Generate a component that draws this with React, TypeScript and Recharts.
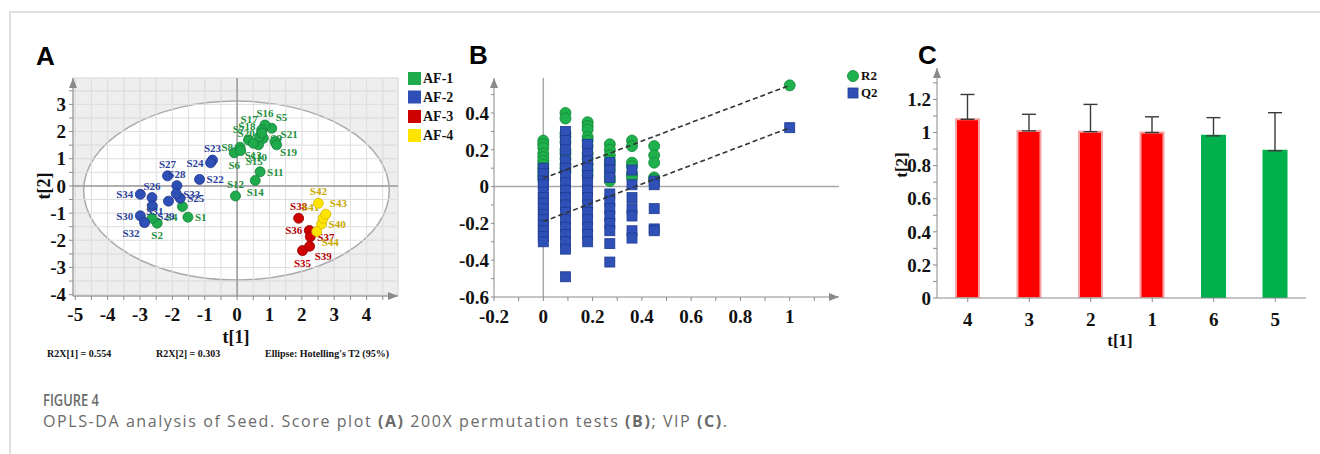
import React from 'react';
import {
  ScatterChart, Scatter, BarChart, Bar, Cell, ErrorBar, XAxis, YAxis,
  CartesianGrid, ReferenceArea, ReferenceLine,
} from 'recharts';

const SERIF = "'Liberation Serif', 'Times New Roman', serif";
const SANS = "'Liberation Sans', Arial, sans-serif";

// ---------- A: OPLS-DA score plot ----------
const af1Names = ['S1', 'S2', 'S3', 'S4', 'S5', 'S6', 'S7', 'S8', 'S9', 'S10', 'S11', 'S12', 'S13', 'S14', 'S15', 'S16', 'S17', 'S18', 'S19', 'S20', 'S21'];
const af1T1 = [-1.52, -2.47, -2.63, -1.69, 1.07, -0.09, 0.35, 0.09, 0.81, 0.66, 0.71, -0.05, 0.5, 0.56, 0.11, 0.86, 0.76, 0.69, 1.17, 0.76, 1.22];
const af1T2 = [-1.15, -1.37, -1.19, -0.76, 2.12, 1.22, 1.69, 1.42, 1.75, 1.51, 0.52, -0.37, 1.57, 0.2, 1.3, 2.24, 2.06, 1.81, 1.63, 1.95, 1.51];

const af2Names = ['S22', 'S23', 'S24', 'S25', 'S26', 'S27', 'S28', 'S29', 'S30', 'S31', 'S32', 'S33', 'S34'];
const af2T1 = [-1.16, -0.76, -0.82, -1.76, -2.63, -2.15, -1.86, -2.62, -2.99, -2.12, -2.86, -1.88, -2.99];
const af2T2 = [0.24, 0.95, 0.85, -0.45, -0.43, 0.37, 0.01, -0.74, -1.1, -0.56, -1.35, -0.29, -0.31];

const af3Names = ['S35', 'S36', 'S37', 'S38', 'S39'];
const af3T1 = [2.02, 2.23, 2.26, 1.9, 2.24];
const af3T2 = [-2.38, -1.64, -1.87, -1.19, -2.22];

const af4Names = ['S40', 'S41', 'S42', 'S43', 'S44'];
const af4T1 = [2.61, 2.66, 2.51, 2.74, 2.46];
const af4T2 = [-1.4, -1.19, -0.64, -1.04, -1.68];

// Hotelling's T2 ellipse extent (t[1], t[2])
const ellipseT1 = [-4.74, 4.7];
const ellipseT2 = [-3.46, 3.12];

const aTicksX = [-5, -4.5, -4, -3.5, -3, -2.5, -2, -1.5, -1, -0.5, 0, 0.5, 1, 1.5, 2, 2.5, 3, 3.5, 4, 4.5];
const aTicksY = [-4, -3.5, -3, -2.5, -2, -1.5, -1, -0.5, 0, 0.5, 1, 1.5, 2, 2.5, 3, 3.5];

const labelSide: Record<string, string> = {
  S1: 'r', S2: 'b', S3: 't', S4: 'bl', S5: 'tr', S6: 'b', S7: 'tl', S8: 'l', S9: 'r', S10: 'b',
  S11: 'r', S12: 't', S13: 'b', S14: 'b', S15: 'br', S16: 't', S17: 'tl', S18: 'tl', S19: 'br', S20: 'l', S21: 'tr',
  S22: 'r', S23: 't', S24: 'l', S25: 'r', S26: 't', S27: 't', S28: 't', S29: 'br', S30: 'l', S31: 'bl',
  S32: 'bl', S33: 'r', S34: 'l',
  S35: 'b', S36: 'l', S37: 'r', S38: 't', S39: 'br',
  S40: 'r', S41: 'tl', S42: 't', S43: 'tr', S44: 'br',
};

const OFFSETS: Record<string, [number, number, 'start' | 'end' | 'middle']> = {
  r: [7, 4, 'start'], l: [-7, 4, 'end'], t: [0, -8, 'middle'], b: [0, 16, 'middle'],
  tr: [4, -7, 'start'], tl: [-4, -7, 'end'], br: [5, 14, 'start'], bl: [-5, 14, 'end'],
};

const toPoints = (names: string[], t1: number[], t2: number[]) =>
  names.map((name, i) => ({ name, x: t1[i], y: t2[i] }));

const scoreGroups = [
  { key: 'AF-1', data: toPoints(af1Names, af1T1, af1T2), fill: '#1faa4b', stroke: '#138038', text: '#1f8f3e' },
  { key: 'AF-2', data: toPoints(af2Names, af2T1, af2T2), fill: '#2e4fb6', stroke: '#1d3588', text: '#2c3f9c' },
  { key: 'AF-3', data: toPoints(af3Names, af3T1, af3T2), fill: '#cf0000', stroke: '#900000', text: '#b50000' },
  { key: 'AF-4', data: toPoints(af4Names, af4T1, af4T2), fill: '#ffe400', stroke: '#d2b400', text: '#c9a900' },
];

// ---------- B: 200X permutation test ----------
const permX = [0, 0.09, 0.18, 0.27, 0.36, 0.45];
const r2Perm = [
  [0.25, 0.23, 0.21, 0.18, 0.16, 0.14, 0.12, 0.1, 0.08, 0.06, 0.04],
  [0.4, 0.37, 0.29, 0.27, 0.24, 0.2, 0.18, 0.15, 0.12, 0.1, 0.08],
  [0.35, 0.33, 0.31, 0.27, 0.25, 0.22, 0.18, 0.15, 0.12, 0.09, 0.06],
  [0.23, 0.2, 0.17, 0.14, 0.12, 0.09, 0.05, 0.03],
  [0.25, 0.22, 0.13, 0.11, 0.07, 0.05],
  [0.22, 0.17, 0.13, 0.05, 0.04],
];
const q2Perm = [
  [0.1, 0.07, 0.03, 0.01, -0.03, -0.06, -0.09, -0.12, -0.15, -0.18, -0.21, -0.24, -0.27, -0.3],
  [0.3, 0.25, 0.2, 0.14, 0.1, 0.06, 0.02, -0.02, -0.06, -0.1, -0.14, -0.18, -0.22, -0.26, -0.3, -0.34, -0.49],
  [0.23, 0.18, 0.14, 0.1, 0.06, 0.02, -0.02, -0.06, -0.1, -0.14, -0.18, -0.22, -0.26, -0.3],
  [0.13, 0.09, 0.05, -0.04, -0.08, -0.12, -0.16, -0.2, -0.24, -0.31, -0.41],
  [0.09, 0.01, -0.06, -0.12, -0.16, -0.24, -0.28],
  [0.03, 0.01, -0.12, -0.23, -0.24],
];
const r2Model = 0.55;
const q2Model = 0.32;
const r2Intercept = 0.045;
const q2Intercept = -0.19;

const bTicksX = [-0.2, -0.1, 0, 0.1, 0.2, 0.3, 0.4, 0.5, 0.6, 0.7, 0.8, 0.9, 1, 1.1];
const bTicksY = [-0.6, -0.5, -0.4, -0.3, -0.2, -0.1, 0, 0.1, 0.2, 0.3, 0.4, 0.5];

const r2Points = [
  ...permX.flatMap((x, i) => r2Perm[i].map((y) => ({ x, y }))),
  { x: 1, y: r2Model },
];
const q2Points = [
  ...permX.flatMap((x, i) => q2Perm[i].map((y) => ({ x, y }))),
  { x: 1, y: q2Model },
];

// ---------- C: VIP ----------
const vipCats = ['4', '3', '2', '1', '6', '5'];
const vipValues = [1.08, 1.01, 1.005, 1.0, 0.98, 0.89];
const vipErr = [0.15, 0.1, 0.165, 0.095, 0.11, 0.23];
const vipColors = ['#ff0000', '#ff0000', '#ff0000', '#ff0000', '#00b04c', '#00b04c'];
const vipTicksY = [0, 0.1, 0.2, 0.3, 0.4, 0.5, 0.6, 0.7, 0.8, 0.9, 1, 1.1, 1.2, 1.3];

const vipData = vipCats.map((cat, i) => ({ cat, vip: vipValues[i], err: [0, vipErr[i]] }));

// ---------- shared styles ----------
const tickStyle = { fill: '#111', fontFamily: SERIF, fontWeight: 700, fontSize: 19 };
const axisGray = '#8a8a8a';
const intOnly = (v: number) => (Number.isInteger(v) ? String(v) : '');
const evenTenths = (v: number) => (Math.round(v * 10) % 2 === 0 ? String(Math.round(v * 10) / 10) : '');

function ArrowDefs({ id }: { id: string }) {
  return (
    <defs>
      <marker id={id} viewBox="0 0 10 8" refX={10} refY={4} markerWidth={10} markerHeight={8}
        markerUnits="userSpaceOnUse" orient="auto-start-reverse">
        <path d="M0,0 L10,4 L0,8 z" fill={axisGray} />
      </marker>
    </defs>
  );
}

function scoreDot(fill: string, stroke: string, textColor: string) {
  return (p: any) => {
    const { cx, cy, payload } = p;
    const o = OFFSETS[labelSide[payload.name] || 'r'];
    return (
      <g>
        <circle cx={cx} cy={cy} r={5} fill={fill} stroke={stroke} strokeWidth={0.8} />
        <text x={cx + o[0]} y={cy + o[1]} textAnchor={o[2]} fill={textColor}
          fontFamily={SERIF} fontWeight={700} fontSize={11}>{payload.name}</text>
      </g>
    );
  };
}

function ScorePlot() {
  return (
    <ScatterChart width={420} height={340} margin={{ top: 78, right: 22, bottom: 14, left: 33 }}>
      <ArrowDefs id="arrA" />
      <CartesianGrid fill="#eeeeee" stroke="#e2e2e2" zIndex={-100} />
      <ReferenceArea x1={ellipseT1[0]} x2={ellipseT1[1]} y1={ellipseT2[0]} y2={ellipseT2[1]} zIndex={-90}
        shape={(p: any) => (
          <ellipse cx={p.x + p.width / 2} cy={p.y + p.height / 2} rx={p.width / 2} ry={p.height / 2}
            fill="#ffffff" stroke="#a9a9a9" strokeWidth={1.5} />
        )} />
      <CartesianGrid fill="none" stroke="#dedede" zIndex={-80} />
      <ReferenceLine x={0} stroke="#9a9a9a" strokeWidth={1.5} zIndex={-70} />
      <ReferenceLine y={0} stroke="#9a9a9a" strokeWidth={1.5} zIndex={-70} />
      <XAxis type="number" dataKey="x" domain={[-5.07, 4.97]} allowDataOverflow ticks={aTicksX} interval={0}
        tickFormatter={intOnly} height={30} tickSize={4} tickMargin={8} tick={tickStyle}
        stroke={axisGray} axisLine={{ stroke: axisGray, markerEnd: 'url(#arrA)' }} />
      <YAxis type="number" dataKey="y" domain={[-4.05, 3.97]} allowDataOverflow ticks={aTicksY} interval={0}
        tickFormatter={intOnly} width={40} tickSize={4} tickMargin={3} tick={tickStyle}
        stroke={axisGray} axisLine={{ stroke: axisGray, markerStart: 'url(#arrA)' }} />
      {scoreGroups.map((g) => (
        <Scatter key={g.key} name={g.key} data={g.data} isAnimationActive={false}
          shape={scoreDot(g.fill, g.stroke, g.text)} />
      ))}
    </ScatterChart>
  );
}

function PermutationPlot() {
  return (
    <ScatterChart width={420} height={340} margin={{ top: 78, right: 21, bottom: 13, left: 4 }}>
      <ArrowDefs id="arrB" />
      <ReferenceLine x={0} stroke="#a8a8a8" strokeWidth={1.5} />
      <ReferenceLine y={0} stroke="#a8a8a8" strokeWidth={1.5} />
      <XAxis type="number" dataKey="x" domain={[-0.2, 1.2]} allowDataOverflow ticks={bTicksX} interval={0}
        tickFormatter={evenTenths} height={30} tickSize={4} tickMargin={9} tick={tickStyle}
        stroke={axisGray} axisLine={{ stroke: axisGray, markerEnd: 'url(#arrB)' }} />
      <YAxis type="number" dataKey="y" domain={[-0.6, 0.59]} allowDataOverflow ticks={bTicksY} interval={0}
        tickFormatter={evenTenths} width={50} tickSize={3} tickMargin={2} tick={tickStyle}
        stroke={axisGray} axisLine={{ stroke: axisGray, markerStart: 'url(#arrB)' }} />
      <Scatter name="R2" data={r2Points} isAnimationActive={false}
        shape={(p: any) => <circle cx={p.cx} cy={p.cy} r={5.5} fill="#1fb14b" stroke="#12873a" strokeWidth={0.8} />} />
      <Scatter name="Q2" data={q2Points} isAnimationActive={false}
        shape={(p: any) => <rect x={p.cx - 5} y={p.cy - 5} width={10} height={10} fill="#2f50b6" stroke="#1e3a8f" strokeWidth={0.8} />} />
      <ReferenceLine segment={[{ x: 0, y: r2Intercept }, { x: 1, y: r2Model }]} stroke="#333" strokeWidth={1.6}
        strokeDasharray="5 3" zIndex={700} />
      <ReferenceLine segment={[{ x: 0, y: q2Intercept }, { x: 1, y: q2Model }]} stroke="#333" strokeWidth={1.6}
        strokeDasharray="5 3" zIndex={700} />
    </ScatterChart>
  );
}

function VipPlot() {
  return (
    <BarChart width={440} height={340} data={vipData} margin={{ top: 68, right: 14, bottom: 12, left: 7 }}>
      <ArrowDefs id="arrC" />
      <XAxis dataKey="cat" height={30} tickSize={4} tickMargin={11} tick={tickStyle}
        stroke={axisGray} axisLine={{ stroke: axisGray }} />
      <YAxis type="number" domain={[0, 1.39]} allowDataOverflow ticks={vipTicksY} interval={0}
        tickFormatter={evenTenths} width={50} tickSize={4} tickMargin={2} tick={tickStyle}
        stroke={axisGray} axisLine={{ stroke: axisGray, markerStart: 'url(#arrC)' }} />
      <Bar dataKey="vip" barSize={23} isAnimationActive={false}>
        {vipData.map((d, i) => (
          <Cell key={d.cat} fill={vipColors[i]}
            stroke={vipColors[i] === '#ff0000' ? '#f7a3a3' : vipColors[i]} strokeWidth={2} />
        ))}
        <ErrorBar dataKey="err" direction="y" width={7} stroke="#3a3a3a" strokeWidth={1.4} />
      </Bar>
    </BarChart>
  );
}

const legendRows = [72, 90.5, 110, 129];

export default function App() {
  return (
    <div style={{ position: 'absolute', left: 0, top: 0, width: 1320, height: 454, background: '#fff', overflow: 'hidden' }}>
      <div style={{ position: 'absolute', left: 10, top: 11, width: 1310, height: 2, background: '#dedede' }} />
      <div style={{ position: 'absolute', left: 9, top: 11, width: 2, height: 443, background: '#dedede' }} />

      <div style={{ position: 'absolute', left: 0, top: 0 }}><ScorePlot /></div>
      <div style={{ position: 'absolute', left: 440, top: 0 }}><PermutationPlot /></div>
      <div style={{ position: 'absolute', left: 880, top: 0 }}><VipPlot /></div>

      <svg width={1320} height={454} style={{ position: 'absolute', left: 0, top: 0, pointerEvents: 'none' }}>
        <g fontFamily={SANS} fontWeight={700} fontSize={26} fill="#000">
          <text x={36} y={65}>A</text>
          <text x={469} y={64}>B</text>
          <text x={918} y={64}>C</text>
        </g>

        {scoreGroups.map((g, i) => (
          <g key={g.key}>
            <rect x={408} y={legendRows[i]} width={13} height={13} fill={g.fill} />
            <text x={423} y={legendRows[i] + 11} fontFamily={SERIF} fontWeight={700} fontSize={14} fill="#111">{g.key}</text>
          </g>
        ))}

        <g fontFamily={SERIF} fontWeight={700} fill="#111">
          <text x={236} y={343} fontSize={18} textAnchor="middle">t[1]</text>
          <text transform="translate(50,186) rotate(-90)" fontSize={18} textAnchor="middle">t[2]</text>
          <text x={47} y={357} fontSize={10}>R2X[1] = 0.554</text>
          <text x={156} y={357} fontSize={10}>R2X[2] = 0.303</text>
          <text x={265} y={357} fontSize={10}>Ellipse: Hotelling's T2 (95%)</text>
          <text x={1120} y={346} fontSize={17} textAnchor="middle">t[1]</text>
          <text transform="translate(907,165) rotate(-90)" fontSize={17} textAnchor="middle">t[2]</text>
        </g>

        <circle cx={853} cy={76} r={5.5} fill="#1fb14b" stroke="#12873a" strokeWidth={0.8} />
        <rect x={848} y={88} width={10} height={10} fill="#2f50b6" stroke="#1e3a8f" strokeWidth={0.8} />
        <g fontFamily={SERIF} fontWeight={700} fontSize={13} fill="#111">
          <text x={861} y={80}>R2</text>
          <text x={861} y={97}>Q2</text>
        </g>

        <g fontFamily="'Open Sans', sans-serif" fill="#6a6a6a">
          <text x={43} y={406} fontSize={16} fontWeight={600} textLength={56} lengthAdjust="spacingAndGlyphs">FIGURE 4</text>
          <text x={43} y={427} fontSize={16} textLength={684} lengthAdjust="spacing">
            OPLS-DA analysis of Seed. Score plot <tspan fontWeight={700}>(A)</tspan> 200X permutation tests{' '}
            <tspan fontWeight={700}>(B)</tspan>; VIP <tspan fontWeight={700}>(C)</tspan>.
          </text>
        </g>
      </svg>
    </div>
  );
}
